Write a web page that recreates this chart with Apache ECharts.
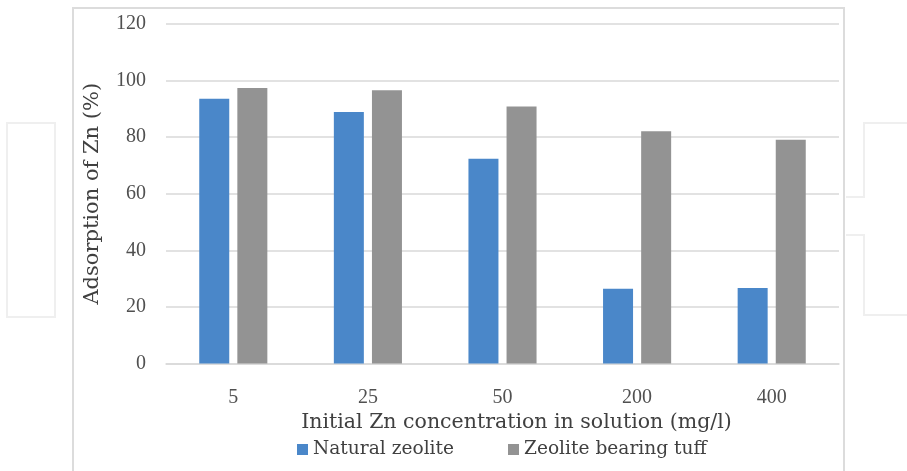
<!DOCTYPE html>
<html>
<head>
<meta charset="utf-8">
<script src="https://cdn.jsdelivr.net/npm/echarts@6/dist/echarts.min.js"></script>
<style>
html,body{margin:0;padding:0;background:#fff;}
#chart{width:907px;height:471px;}
</style>
</head>
<body>
<div id="chart"></div>
<script>
var categories = ['5', '25', '50', '200', '400'];
var naturalZeolite = [93.6, 88.9, 72.4, 26.4, 26.7];
var zeoliteTuff = [97.4, 96.6, 90.8, 82.1, 79.1];
var yTicks = [0, 20, 40, 60, 80, 100, 120];
var seriesNames = ['Natural zeolite', 'Zeolite bearing tuff'];

var chart = echarts.init(document.getElementById('chart'));
var serif = '"Liberation Serif", "Times New Roman", serif';
var wide = '"DejaVu Serif", serif';
var legendText = { fontFamily: wide, fontSize: 18.6, color: '#404040' };
var option = {
  backgroundColor: '#fff',
  animation: false,
  graphic: [
    { type: 'rect', shape: { x: 73, y: 8, width: 771, height: 480 }, style: { fill: 'none', stroke: '#dcdcdc', lineWidth: 2 }, silent: true, z: -1 },
    { type: 'rect', shape: { x: 7, y: 123, width: 48, height: 194 }, style: { fill: 'none', stroke: '#efefef', lineWidth: 2 }, silent: true, z: -1 },
    { type: 'polyline', shape: { points: [[907, 123], [864, 123], [864, 197], [846, 197]] }, style: { fill: 'none', stroke: '#efefef', lineWidth: 2 }, silent: true, z: -1 },
    { type: 'polyline', shape: { points: [[846, 235], [864, 235], [864, 315], [907, 315]] }, style: { fill: 'none', stroke: '#efefef', lineWidth: 2 }, silent: true, z: -1 }
  ],
  grid: { left: 166, right: 68, top: 24, bottom: 107.5, containLabel: false },
  legend: [
    { data: [seriesNames[0]], left: 292, top: 435, itemWidth: 11, itemHeight: 11, icon: 'rect', textStyle: legendText },
    { data: [seriesNames[1]], left: 503, top: 435, itemWidth: 11, itemHeight: 11, icon: 'rect', textStyle: legendText }
  ],
  xAxis: {
    type: 'category',
    data: categories,
    name: 'Initial Zn concentration in solution (mg/l)',
    nameLocation: 'middle',
    nameGap: 45,
    nameTextStyle: { fontFamily: wide, fontSize: 20.5, color: '#404040', padding: [0, 0, 0, 28] },
    axisLine: { lineStyle: { color: '#d9d9d9', width: 1.5 } },
    axisTick: { show: false },
    axisLabel: { fontFamily: serif, fontSize: 20, color: '#505050', margin: 24 }
  },
  yAxis: {
    type: 'value',
    min: 0,
    max: 120,
    interval: 20,
    name: 'Adsorption of Zn (%)',
    nameLocation: 'middle',
    nameGap: 63,
    nameTextStyle: { fontFamily: wide, fontSize: 21, color: '#404040' },
    axisLine: { show: false },
    axisTick: { show: false },
    axisLabel: { fontFamily: serif, fontSize: 20, color: '#505050', margin: 20,
      formatter: function (v) { return yTicks.indexOf(v) >= 0 ? String(v) : ''; } },
    splitLine: { lineStyle: { color: '#d9d9d9', width: 1.5 } }
  },
  series: [
    { name: seriesNames[0], type: 'bar', data: naturalZeolite, barWidth: 30, barGap: '27%', itemStyle: { color: '#4a87c9' } },
    { name: seriesNames[1], type: 'bar', data: zeoliteTuff, barWidth: 30, itemStyle: { color: '#939393' } }
  ]
};
chart.setOption(option);
</script>
</body>
</html>
